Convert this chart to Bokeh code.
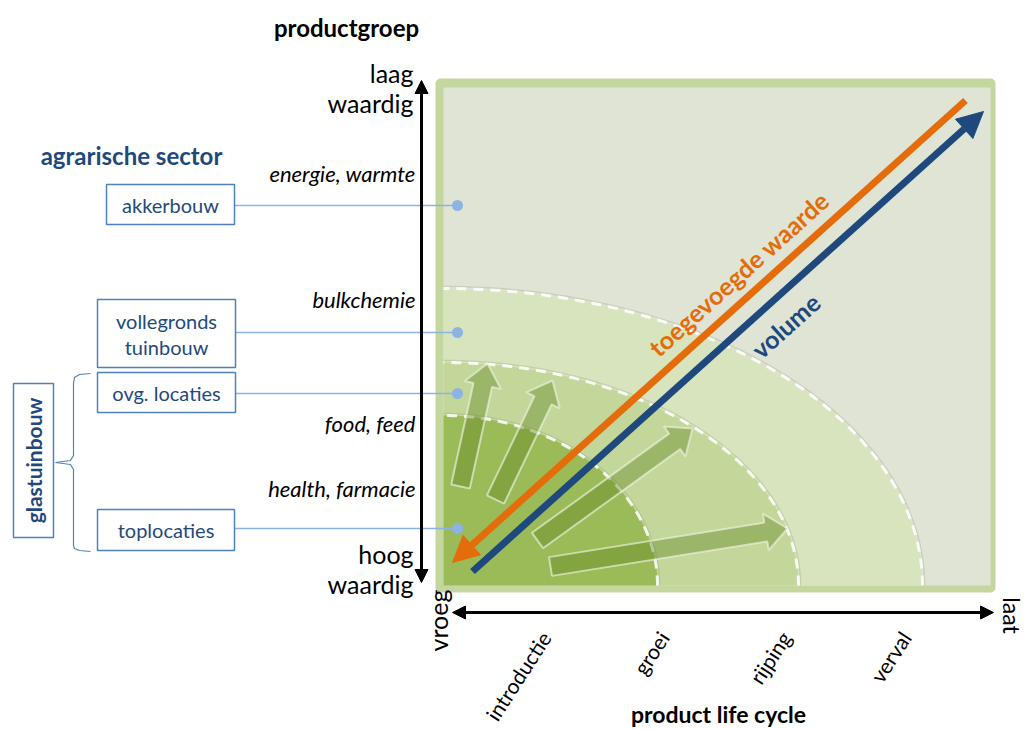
import numpy as np
from bokeh.plotting import figure
from bokeh.models import Range1d, Arrow, NormalHead
from bokeh.embed import file_html
from bokeh.resources import INLINE
from bokeh.core.properties import value

# ---------------- data ----------------
sector_title = "agrarische sector"
sector_labels = ["akkerbouw", "vollegronds\ntuinbouw", "ovg. locaties", "toplocaties"]
sector_levels = [205, 332, 393, 528]          # screen y of connector / dot
box_left = [106, 97, 97, 97]
box_right = [234, 235, 235, 234]
box_top = [184, 299, 372, 509]
box_bottom = [224, 367, 412, 550]

group_labels = ["energie, warmte", "bulkchemie", "food, feed", "health, farmacie"]
group_levels = [173, 299, 423, 488]

stages = ["introductie", "groei", "rijping", "verval"]
stage_ends = [545, 663, 785, 905]

zone_rx = [479, 355, 214]
zone_ry = [297, 223, 170]
zone_colors = ["#d7e4bd", "#c4d79b", "#9bbb59"]

# block arrows (tail -> tip), screen coords
barrow_tail = [(460, 486), (495, 499), (537, 540), (550, 566)]
barrow_tip = [(487, 363), (552, 380), (692, 428), (787, 528)]

W, H = 1026, 729
def Y(py):
    return H - py

FONT = "Lato"
DARKBLUE = "#1f497d"
BOXBLUE = "#4f81bd"
LIGHTBLUE = "#8db3e2"
ORANGE = "#e46c0a"

p = figure(width=W, height=H, x_range=Range1d(0, W), y_range=Range1d(0, H),
           output_backend="svg", toolbar_location=None, min_border=0,
           x_axis_location=None, y_axis_location=None)
p.grid.visible = False
p.outline_line_color = None

def txt(x, y, s, size, color="black", style="normal", align="center", baseline="middle", angle=0.0):
    p.text(x=[x], y=[Y(y)], text=[s], text_font=value(FONT), text_font_size=f"{size}px",
           text_color=color, text_font_style=style, text_align=align,
           text_baseline=baseline, angle=angle)

# ---------------- main box ----------------
bx0, bx1, by0, by1 = 443, 990, 87, 585
p.quad(left=[bx0 - 8], right=[bx1 + 5], top=[Y(by0 - 9)], bottom=[Y(by1 + 7)],
       fill_color="#c4d79e", line_color=None, border_radius=5)
p.quad(left=[bx0], right=[bx1], top=[Y(by0)], bottom=[Y(by1)],
       fill_color="#dfe4d5", line_color=None)

cx, cy = bx0, Y(by1)
t = np.linspace(0, np.pi / 2, 120)
for rx, ry, col in zip(zone_rx, zone_ry, zone_colors):
    xs = np.concatenate([[cx], cx + rx * np.cos(t), [cx]])
    ys = np.concatenate([[cy], cy + ry * np.sin(t), [cy]])
    p.patch(xs, ys, fill_color=col, line_color=None)
for rx, ry in zip(zone_rx, zone_ry):
    p.line(cx + (rx + 2) * np.cos(t), cy + (ry + 2) * np.sin(t), line_color="#8a9570",
           line_alpha=0.25, line_width=1.5)
    p.line(cx + rx * np.cos(t), cy + ry * np.sin(t), line_color="white",
           line_alpha=0.85, line_width=3, line_dash="10 7")

# block arrows
def block_arrow(tail, tip, shaft=19, headw=37, headl=22):
    tx, ty = tail
    hx, hy = tip
    dx, dy = hx - tx, hy - ty
    L = np.hypot(dx, dy)
    ux, uy = dx / L, dy / L
    nx, ny = -uy, ux
    bx, by = hx - ux * headl, hy - uy * headl
    pts = [
        (tx + nx * shaft / 2, ty + ny * shaft / 2),
        (bx + nx * shaft / 2, by + ny * shaft / 2),
        (bx + nx * headw / 2, by + ny * headw / 2),
        (hx, hy),
        (bx - nx * headw / 2, by - ny * headw / 2),
        (bx - nx * shaft / 2, by - ny * shaft / 2),
        (tx - nx * shaft / 2, ty - ny * shaft / 2),
    ]
    return [q[0] for q in pts], [Y(q[1]) for q in pts]

for tail, tip in zip(barrow_tail, barrow_tip):
    xs, ys = block_arrow(tail, tip)
    p.patch(xs, ys, fill_color="#60821d", fill_alpha=0.4, line_color="#eef3e0",
            line_alpha=0.65, line_width=2)

# diagonal arrows
p.add_layout(Arrow(end=NormalHead(size=26, fill_color=ORANGE, line_color=ORANGE),
                   x_start=965, y_start=Y(100), x_end=452, y_end=Y(562),
                   line_color=ORANGE, line_width=7))
p.add_layout(Arrow(end=NormalHead(size=26, fill_color=DARKBLUE, line_color=DARKBLUE),
                   x_start=472, y_start=Y(571), x_end=983, y_end=Y(111),
                   line_color=DARKBLUE, line_width=7))
ang = np.arctan2(462, 513)
txt(738, 273, "toegevoegde waarde", 25, ORANGE, "bold", angle=ang)
txt(785, 325, "volume", 25, DARKBLUE, "bold", angle=ang)

# connectors + dots
for lvl, r in zip(sector_levels, box_right):
    p.line([r, 457], [Y(lvl), Y(lvl)], line_color=LIGHTBLUE, line_width=1.3)
p.scatter(x=[457] * len(sector_levels), y=[Y(v) for v in sector_levels], size=11,
          fill_color=LIGHTBLUE, line_color=None)

# sector boxes
p.quad(left=box_left, right=box_right, top=[Y(v) for v in box_top],
       bottom=[Y(v) for v in box_bottom], fill_color="white", line_color=BOXBLUE, line_width=1.5)
for lab, l, r, tp, bt in zip(sector_labels, box_left, box_right, box_top, box_bottom):
    lines = lab.split("\n")
    mid = (tp + bt) / 2
    n = len(lines)
    for i, s in enumerate(lines):
        txt((l + r) / 2, mid + (i - (n - 1) / 2) * 26, s, 20, DARKBLUE)

txt(131, 155, sector_title, 24, DARKBLUE, "bold")

# glastuinbouw box + brace
p.quad(left=[13], right=[53], top=[Y(383)], bottom=[Y(537)], fill_color="white",
       line_color=BOXBLUE, line_width=1.5)
txt(33, 460, "glastuinbouw", 21, DARKBLUE, "bold", angle=np.pi / 2)
brace_x = [90, 79, 74, 73, 73, 70, 55, 70, 73, 73, 74, 79, 90]
brace_y = [373, 374, 377, 383, 455, 460, 462, 464, 469, 545, 548, 550, 551]
p.line(brace_x, [Y(v) for v in brace_y], line_color=BOXBLUE, line_width=1.2)

# vertical axis
p.add_layout(Arrow(start=NormalHead(size=13, fill_color="black", line_color="black"),
                   end=NormalHead(size=13, fill_color="black", line_color="black"),
                   x_start=421, y_start=Y(582), x_end=421, y_end=Y(80),
                   line_color="black", line_width=3))
txt(346, 27, "productgroep", 24, "black", "bold")
txt(413, 72, "laag", 25, align="right")
txt(413, 102, "waardig", 25, align="right")
txt(413, 553, "hoog", 25, align="right")
txt(413, 583, "waardig", 25, align="right")
for lab, lvl in zip(group_labels, group_levels):
    txt(415, lvl, lab, 22, "black", "italic", align="right")

# horizontal axis
p.add_layout(Arrow(start=NormalHead(size=13, fill_color="black", line_color="black"),
                   end=NormalHead(size=13, fill_color="black", line_color="black"),
                   x_start=452, y_start=Y(612), x_end=993, y_end=Y(612),
                   line_color="black", line_width=3))
txt(437, 620, "vroeg", 25, angle=np.pi / 2)
txt(1011, 615, "laat", 23, angle=-np.pi / 2)
for lab, xe in zip(stages, stage_ends):
    txt(xe, 633, lab, 21, align="right", angle=np.radians(57))
txt(718, 713, "product life cycle", 23, "black", "bold")

open("out.html", "w").write(file_html(p, INLINE))
